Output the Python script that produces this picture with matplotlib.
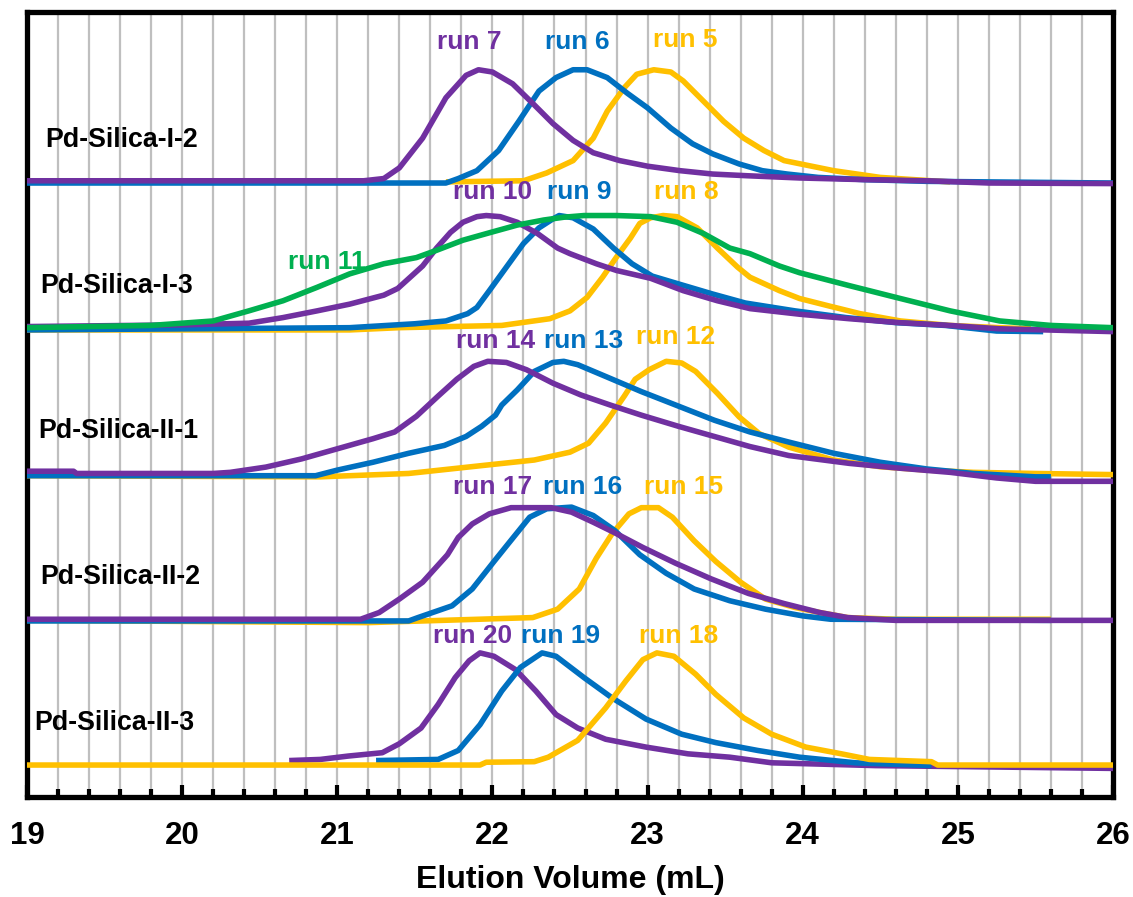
import matplotlib
matplotlib.use("Agg")
import matplotlib.pyplot as plt
from matplotlib.ticker import MultipleLocator

plt.rcParams['font.family'] = ['Liberation Sans', 'DejaVu Sans']
plt.rcParams['font.weight'] = 'bold'

# ---------------- data (elution volume mL, normalized detector signal) -------------
GROUPS = ["Pd-Silica-I-2", "Pd-Silica-I-3", "Pd-Silica-II-1", "Pd-Silica-II-2", "Pd-Silica-II-3"]

# Pd-Silica-I-2
RUN5_X = [21.70, 22.20, 22.35, 22.52, 22.65, 22.74, 22.85, 22.93, 23.04, 23.15, 23.23, 23.36, 23.49,
          23.62, 23.75, 23.88, 24.20, 24.50, 24.83, 24.95]
RUN5_Y = [0.0, 0.01, 0.08, 0.19, 0.39, 0.63, 0.84, 0.96, 1.0, 0.98, 0.90, 0.72, 0.54,
          0.39, 0.28, 0.19, 0.10, 0.04, 0.01, 0.0]
RUN6_X = [19.0, 21.70, 21.78, 21.90, 22.04, 22.17, 22.30, 22.41, 22.52, 22.61, 22.74, 22.87, 23.00,
          23.15, 23.29, 23.42, 23.59, 23.74, 23.90, 24.10, 24.40, 24.80, 25.20, 26.0]
RUN6_Y = [-0.01, -0.01, 0.03, 0.10, 0.28, 0.54, 0.81, 0.93, 1.0, 1.0, 0.93, 0.79, 0.66,
          0.48, 0.34, 0.25, 0.16, 0.10, 0.07, 0.04, 0.02, 0.005, 0.0, -0.01]
RUN7_X = [19.0, 21.17, 21.30, 21.40, 21.55, 21.70, 21.83, 21.91, 22.00, 22.13, 22.26, 22.39, 22.52,
          22.65, 22.82, 23.00, 23.21, 23.42, 23.64, 23.98, 24.40, 24.80, 25.20, 26.0]
RUN7_Y = [0.01, 0.01, 0.03, 0.125, 0.39, 0.75, 0.95, 1.0, 0.98, 0.875, 0.70, 0.52, 0.37,
          0.26, 0.19, 0.14, 0.10, 0.07, 0.055, 0.035, 0.02, 0.01, -0.01, -0.015]

# Pd-Silica-I-3
RUN8_X = [19.0, 21.08, 21.40, 22.06, 22.37, 22.50, 22.61, 22.71, 22.80, 22.89, 22.95, 23.02, 23.10,
          23.19, 23.32, 23.45, 23.58, 23.66, 23.85, 23.98, 24.18, 24.37, 24.63, 24.95, 25.27, 25.47]
RUN8_Y = [-0.02, -0.02, 0.0, 0.02, 0.08, 0.15, 0.27, 0.45, 0.63, 0.80, 0.93, 0.98, 1.0,
          0.99, 0.89, 0.71, 0.54, 0.45, 0.33, 0.26, 0.19, 0.125, 0.06, 0.02, 0.0, -0.01]
RUN9_X = [19.0, 21.08, 21.50, 21.70, 21.84, 21.90, 21.98, 22.09, 22.20, 22.30, 22.39, 22.43, 22.52,
          22.65, 22.78, 22.90, 23.03, 23.20, 23.42, 23.63, 23.95, 24.28, 24.60, 24.92, 25.25, 25.55]
RUN9_Y = [-0.02, 0.0, 0.035, 0.06, 0.125, 0.18, 0.33, 0.54, 0.75, 0.89, 0.97, 1.0, 0.98,
          0.88, 0.71, 0.57, 0.46, 0.39, 0.30, 0.22, 0.15, 0.09, 0.045, 0.02, -0.03, -0.035]
RUN10_X = [19.0, 20.0, 20.43, 20.65, 20.87, 21.08, 21.30, 21.39, 21.47, 21.55, 21.64, 21.73, 21.81,
           21.90, 21.96, 22.05, 22.16, 22.29, 22.42, 22.50, 22.67, 22.80, 23.02, 23.23, 23.45, 23.66,
           23.98, 24.30, 24.62, 24.95, 25.27, 26.0]
RUN10_Y = [0.01, 0.025, 0.04, 0.09, 0.15, 0.21, 0.29, 0.35, 0.45, 0.55, 0.71, 0.85, 0.94,
           0.99, 1.0, 0.99, 0.94, 0.84, 0.71, 0.66, 0.57, 0.51, 0.44, 0.33, 0.24, 0.17,
           0.12, 0.08, 0.045, 0.02, -0.01, -0.035]
RUN11_X = [19.0, 19.80, 20.20, 20.43, 20.65, 20.87, 21.08, 21.30, 21.51, 21.64, 21.81, 21.99, 22.16,
           22.33, 22.46, 22.59, 22.80, 23.02, 23.19, 23.36, 23.53, 23.66, 23.85, 23.98, 24.30, 24.63,
           24.95, 25.27, 25.60, 26.0]
RUN11_Y = [0.0, 0.02, 0.06, 0.15, 0.24, 0.36, 0.48, 0.57, 0.625, 0.69, 0.78, 0.85, 0.915,
           0.96, 0.985, 1.0, 1.0, 0.99, 0.94, 0.84, 0.71, 0.66, 0.55, 0.49, 0.375, 0.26,
           0.15, 0.06, 0.02, 0.0]

# Pd-Silica-II-1
RUN12_X = [19.0, 20.89, 21.46, 21.93, 22.27, 22.50, 22.62, 22.73, 22.85, 22.92, 23.01, 23.12, 23.22,
           23.31, 23.45, 23.59, 23.72, 23.91, 24.20, 24.50, 24.80, 25.10, 25.50, 26.0]
RUN12_Y = [-0.02, -0.03, 0.0, 0.07, 0.12, 0.19, 0.27, 0.45, 0.69, 0.84, 0.925, 1.0, 0.985,
           0.91, 0.715, 0.505, 0.355, 0.235, 0.12, 0.06, 0.03, 0.01, 0.0, -0.01]
RUN13_X = [19.0, 20.86, 21.0, 21.23, 21.46, 21.69, 21.83, 21.93, 22.02, 22.06, 22.16, 22.27, 22.39,
           22.46, 22.55, 22.73, 22.96, 23.20, 23.43, 23.66, 23.91, 24.20, 24.50, 24.80, 25.10, 25.50, 25.60]
RUN13_Y = [-0.02, -0.02, 0.03, 0.10, 0.18, 0.25, 0.33, 0.42, 0.52, 0.61, 0.745, 0.91, 0.99,
           1.0, 0.97, 0.865, 0.73, 0.60, 0.475, 0.37, 0.28, 0.18, 0.10, 0.04, 0.0, -0.03, -0.03]
RUN14_X = [19.0, 19.30, 19.32, 20.20, 20.31, 20.54, 20.77, 21.0, 21.23, 21.37, 21.51, 21.65, 21.77,
           21.88, 21.97, 22.09, 22.22, 22.39, 22.57, 22.76, 22.96, 23.20, 23.43, 23.66, 23.91, 24.30,
           24.60, 24.95, 25.25, 25.50, 26.0]
RUN14_Y = [0.02, 0.02, 0.0, 0.0, 0.01, 0.057, 0.13, 0.22, 0.31, 0.37, 0.51, 0.69, 0.84,
           0.955, 1.0, 0.99, 0.925, 0.805, 0.70, 0.61, 0.52, 0.42, 0.33, 0.24, 0.16, 0.09,
           0.05, 0.01, -0.04, -0.07, -0.07]

# Pd-Silica-II-2
RUN15_X = [19.0, 21.20, 21.91, 22.26, 22.42, 22.56, 22.67, 22.77, 22.88, 22.96, 23.07, 23.16, 23.30,
           23.44, 23.60, 23.76, 23.95, 24.11, 24.29, 24.60, 25.60]
RUN15_Y = [-0.01, -0.03, 0.0, 0.015, 0.09, 0.27, 0.545, 0.76, 0.94, 0.995, 0.995, 0.91, 0.70,
           0.515, 0.33, 0.18, 0.105, 0.06, 0.015, 0.0, 0.0]
RUN16_X = [19.0, 21.46, 21.52, 21.74, 21.87, 22.01, 22.10, 22.24, 22.35, 22.51, 22.65, 22.79, 22.95,
           23.12, 23.30, 23.53, 23.76, 24.00, 24.18, 25.60]
RUN16_Y = [-0.015, -0.015, 0.015, 0.12, 0.27, 0.515, 0.67, 0.91, 0.985, 1.0, 0.925, 0.79, 0.575,
           0.41, 0.27, 0.165, 0.09, 0.03, 0.0, -0.01]
RUN17_X = [19.0, 21.15, 21.27, 21.40, 21.55, 21.71, 21.78, 21.87, 21.98, 22.12, 22.38, 22.51, 22.65,
           22.79, 22.97, 23.18, 23.41, 23.65, 23.88, 24.11, 24.29, 24.60, 26.0]
RUN17_Y = [0.0, 0.0, 0.06, 0.18, 0.33, 0.575, 0.73, 0.85, 0.94, 0.995, 0.995, 0.955, 0.865,
           0.77, 0.64, 0.50, 0.36, 0.23, 0.14, 0.06, 0.015, -0.01, -0.01]

# Pd-Silica-II-3
RUN18_X = [19.0, 21.92, 21.96, 22.27, 22.36, 22.55, 22.73, 22.86, 22.97, 23.06, 23.17, 23.31, 23.44,
           23.62, 23.80, 24.02, 24.25, 24.43, 24.83, 24.87, 26.0]
RUN18_Y = [0.0, 0.0, 0.025, 0.03, 0.07, 0.22, 0.51, 0.75, 0.94, 1.0, 0.97, 0.81, 0.63,
           0.42, 0.275, 0.16, 0.10, 0.05, 0.03, 0.0, 0.0]
RUN19_X = [21.25, 21.65, 21.78, 21.92, 22.06, 22.18, 22.32, 22.41, 22.59, 22.77, 22.99, 23.22, 23.44,
           23.71, 23.98, 24.34, 24.83]
RUN19_Y = [0.04, 0.05, 0.13, 0.36, 0.66, 0.87, 1.0, 0.97, 0.78, 0.60, 0.41, 0.275, 0.20,
           0.13, 0.07, 0.02, -0.005]
RUN20_X = [20.69, 20.89, 21.07, 21.29, 21.40, 21.54, 21.65, 21.76, 21.85, 21.92, 22.01, 22.15, 22.28,
           22.41, 22.55, 22.73, 22.99, 23.26, 23.53, 23.80, 24.47, 26.0]
RUN20_Y = [0.04, 0.05, 0.08, 0.11, 0.19, 0.33, 0.54, 0.78, 0.93, 1.0, 0.97, 0.85, 0.66,
           0.45, 0.33, 0.23, 0.16, 0.10, 0.07, 0.02, -0.005, -0.03]

# run label positions (x in mL, height above group baseline)
LABEL_RUNS = ["run 7", "run 6", "run 5", "run 10", "run 9", "run 8", "run 11",
              "run 14", "run 13", "run 12", "run 17", "run 16", "run 15",
              "run 20", "run 19", "run 18"]
LABEL_X = [21.85, 22.55, 23.24, 22.00, 22.56, 23.25, 20.93,
           22.02, 22.59, 23.18, 22.00, 22.58, 23.23, 21.87, 22.44, 23.20]
LABEL_H = [1.25, 1.25, 1.265, 1.21, 1.21, 1.21, 0.585,
           1.18, 1.18, 1.215, 1.18, 1.18, 1.18, 1.15, 1.15, 1.15]
LABEL_GROUP = [0, 0, 0, 1, 1, 1, 1, 2, 2, 2, 3, 3, 3, 4, 4, 4]

GROUP_LABEL_X = [19.61, 19.575, 19.59, 19.60, 19.565]
GROUP_LABEL_H = 0.375

PURPLE, BLUE, YELLOW, GREEN = "#7030A0", "#0070C0", "#FFC000", "#00B050"
LABEL_COLORS = [PURPLE, BLUE, YELLOW, PURPLE, BLUE, YELLOW, GREEN,
                PURPLE, BLUE, YELLOW, PURPLE, BLUE, YELLOW, PURPLE, BLUE, YELLOW]

# traces per group in drawing order (bottom to top)
GROUP_TRACES = [
    [(RUN5_X, RUN5_Y, YELLOW), (RUN6_X, RUN6_Y, BLUE), (RUN7_X, RUN7_Y, PURPLE)],
    [(RUN8_X, RUN8_Y, YELLOW), (RUN9_X, RUN9_Y, BLUE), (RUN10_X, RUN10_Y, PURPLE), (RUN11_X, RUN11_Y, GREEN)],
    [(RUN12_X, RUN12_Y, YELLOW), (RUN13_X, RUN13_Y, BLUE), (RUN14_X, RUN14_Y, PURPLE)],
    [(RUN15_X, RUN15_Y, YELLOW), (RUN16_X, RUN16_Y, BLUE), (RUN17_X, RUN17_Y, PURPLE)],
    [(RUN20_X, RUN20_Y, PURPLE), (RUN19_X, RUN19_Y, BLUE), (RUN18_X, RUN18_Y, YELLOW)],
]
OFFSET_STEP = 1.3

# ---------------- figure -------------
fig = plt.figure(figsize=(11.33, 8.97), dpi=100)
ax = fig.add_axes([27 / 1133, 100 / 897, (1113 - 27) / 1133, (797 - 12) / 897])

n = len(GROUPS)
for gi, traces in enumerate(GROUP_TRACES):
    off = (n - 1 - gi) * OFFSET_STEP
    for xs, ys, col in traces:
        ax.plot(xs, [v + off for v in ys], color=col, lw=4.0,
                solid_joinstyle='round', solid_capstyle='butt', zorder=3)
    ax.text(GROUP_LABEL_X[gi], off + GROUP_LABEL_H, GROUPS[gi], fontsize=19.3,
            fontweight='bold', ha='center', va='center', color='black', zorder=4)

for lab, lx, lh, lg, lc in zip(LABEL_RUNS, LABEL_X, LABEL_H, LABEL_GROUP, LABEL_COLORS):
    off = (n - 1 - lg) * OFFSET_STEP
    ax.text(lx, off + lh, lab, fontsize=19, fontweight='bold', color=lc,
            ha='center', va='center', zorder=4)

ax.set_xlim(19, 26)
ax.set_ylim(-0.285, 6.715)
ax.set_xticks(range(19, 27))
ax.xaxis.set_minor_locator(MultipleLocator(0.2))
ax.set_yticks([])
ax.grid(which='both', axis='x', color='#BFBFBF', lw=1.6)
ax.set_axisbelow(True)
ax.tick_params(axis='x', which='major', direction='in', length=9, width=3, pad=17,
               labelsize=22.5, top=False)
ax.tick_params(axis='x', which='minor', direction='in', length=5.5, width=3, top=False)
for lab in ax.get_xticklabels():
    lab.set_fontweight('bold')
for sp in ax.spines.values():
    sp.set_linewidth(3.8)
    sp.set_color('black')
ax.set_xlabel("Elution Volume (mL)", fontsize=23, fontweight='bold', labelpad=10)

fig.savefig("out.png", dpi=100)
